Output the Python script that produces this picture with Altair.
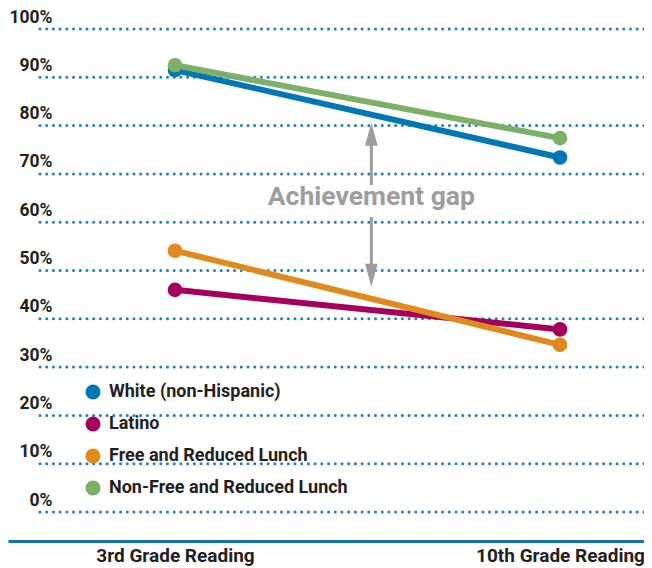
import altair as alt
import pandas as pd

groups = ["White (non-Hispanic)", "Latino", "Free and Reduced Lunch", "Non-Free and Reduced Lunch"]
colors = ["#0277b6", "#a5005b", "#e08a1d", "#7bb066"]
grades = ["3rd Grade Reading", "10th Grade Reading"]
third = [91.5, 46.0, 54.1, 92.5]
tenth = [73.4, 37.8, 34.6, 77.4]
ticks = [0, 10, 20, 30, 40, 50, 60, 70, 80, 90, 100]
gap_label = "Achievement gap"
gap_x = 0.51
gap_text_y = 65.2
shafts_lo = [67.7, 51.0]
shafts_hi = [76.0, 61.1]
head_up_y = 78.2
head_down_y = 49.0

FONT = "Roboto"
DARK = "#231f20"
GRAY = "#9d9da0"

rows = []
for g, a, b in zip(groups, third, tenth):
    rows.append({"group": g, "gi": 0, "value": a})
    rows.append({"group": g, "gi": 1, "value": b})
df = pd.DataFrame(rows)

W, H = 636, 533
xs = alt.Scale(domain=[-0.43377, 1.21818], nice=False, zero=False)
ys = alt.Scale(domain=[-6.0, 104.35], nice=False, zero=False)
cscale = alt.Scale(domain=groups, range=colors)

label_expr = "datum.value == 0 ? '%s' : '%s'" % (grades[0], grades[1])

grid = alt.Chart(pd.DataFrame({"t": ticks})).mark_rule(
    color="#1b7fc0", strokeWidth=3, strokeDash=[0.01, 6.7], strokeCap="round"
).encode(
    y=alt.Y("t:Q", scale=ys, axis=alt.Axis(
        values=ticks, format=".0f", labelExpr="datum.value + '%'", title=None)),
    x=alt.value(32), x2=alt.value(W),
)

lines = alt.Chart(df).mark_line(strokeWidth=6).encode(
    x=alt.X("gi:Q", scale=xs, axis=alt.Axis(values=[0, 1], labelExpr=label_expr, title=None)),
    y=alt.Y("value:Q", scale=ys),
    stroke=alt.Stroke("group:N", scale=cscale, legend=None),
    detail="group:N",
)

points = alt.Chart(df).mark_point(filled=True, size=215, opacity=1).encode(
    x=alt.X("gi:Q", scale=xs),
    y=alt.Y("value:Q", scale=ys),
    fill=alt.Fill("group:N", scale=cscale, legend=alt.Legend(
        orient="none", legendX=76, legendY=375, title=None, symbolType="circle", symbolSize=225,
        symbolStrokeWidth=0, symbolOpacity=1, labelFont=FONT, labelFontSize=18, labelFontWeight="bold",
        labelColor=DARK, rowPadding=14, labelOffset=7, padding=0, labelLimit=0)),
)

shaft_df = pd.DataFrame({"x": [gap_x, gap_x], "lo": shafts_lo, "hi": shafts_hi})
shafts = alt.Chart(shaft_df).mark_rule(color=GRAY, strokeWidth=3).encode(
    x=alt.X("x:Q", scale=xs), y=alt.Y("lo:Q", scale=ys), y2="hi:Q"
)
heads_df = pd.DataFrame({"x": [gap_x, gap_x], "y": [head_up_y, head_down_y],
                         "shape": ["M0,-1L0.55,1L-0.55,1Z", "M0,1L0.55,-1L-0.55,-1Z"]})
heads = alt.Chart(heads_df).mark_point(filled=True, size=529, color=GRAY, opacity=1).encode(
    x=alt.X("x:Q", scale=xs), y=alt.Y("y:Q", scale=ys),
    shape=alt.Shape("shape:N", scale=None, legend=None),
)
text = alt.Chart(pd.DataFrame({"x": [gap_x], "y": [gap_text_y], "t": [gap_label]})).mark_text(
    font=FONT, fontSize=26.5, fontWeight="bold", color=GRAY, align="center", baseline="middle"
).encode(x=alt.X("x:Q", scale=xs), y=alt.Y("y:Q", scale=ys), text="t:N")

chart = alt.layer(grid, shafts, heads, text, lines, points).properties(
    width=W, height=H, autosize=alt.AutoSizeParams(type="none"),
    padding={"left": 0, "right": 0, "top": 0, "bottom": 27},
    background="white",
).resolve_legend(
    fill="independent", stroke="independent"
).configure_view(stroke=None).configure_axis(
    grid=False, ticks=False, labelFont=FONT, labelFontWeight="bold", labelColor=DARK
).configure_axisY(
    domain=False, labelPadding=-44, labelOffset=-12, labelBaseline="middle", labelFontSize=17.5,
    labelAlign="right"
).configure_axisX(
    domain=True, domainColor="#1173b0", domainWidth=3, labelPadding=5, labelFontSize=19
)

chart.save("out.html", embed_options={"renderer": "svg", "actions": False})
